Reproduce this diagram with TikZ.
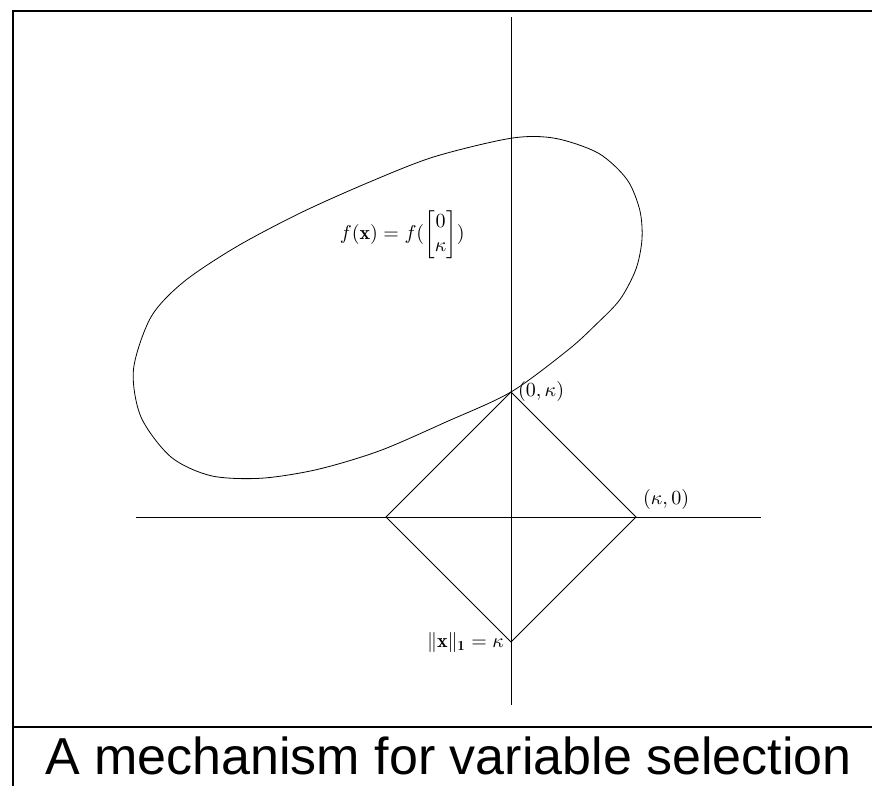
\documentclass[tikz,border=0pt]{standalone}
\usepackage{amsmath}
\usepackage{fontspec}
\setsansfont{Liberation Sans}
\usetikzlibrary{calc}
\tikzset{
  axisline/.style={thin},
  frameline/.style={line width=1pt},
  sepline/.style={line width=1.2pt},
  levelset/.style={thin, smooth cycle, tension=0.5},
  lbl/.style={font=\normalsize},
  captxt/.style={font=\sffamily\fontsize{26}{30}\selectfont, inner sep=0pt, anchor=base west},
}

\begin{document}
\begin{tikzpicture}[x=62.5pt, y=62.5pt]
    \useasboundingbox (-4.088,-2.152) rectangle (2.888,4.136);
    % frame and caption
    \coordinate (ftl) at (-3.986,4.048);
    \coordinate (ftr) at (2.888,4.048);
    \coordinate (fbl) at (-3.986,-2.152);
    \coordinate (sl) at (-3.986,-1.68);
    \coordinate (sr) at (2.888,-1.68);
    \draw[frameline] (fbl) -- (ftl) -- (ftr);
    \draw[sepline] (sl) -- (sr);
    \node[captxt] (cap) at (-3.728,-2.056) {A mechanism for variable selection};
    % axes
    \coordinate (xmin) at (-3,0);
    \coordinate (xmax) at (2,0);
    \coordinate (ymin) at (0,-1.5);
    \coordinate (ymax) at (0,4);
    \draw[axisline] (xmin) -- (xmax);
    \draw[axisline] (ymin) -- (ymax);
    % l1 ball
    \coordinate (top) at (0,1);
    \coordinate (rgt) at (1,0);
    \coordinate (bot) at (0,-1);
    \coordinate (lft) at (-1,0);
    \draw (top) -- (rgt) -- (bot) -- (lft) -- cycle;
    % level set of f
    \draw[levelset] plot coordinates {(0,1) (0.456,1.336) (0.68,1.54) (0.872,1.74)
      (1.0,1.984) (1.048,2.224) (1.03,2.456) (0.928,2.7) (0.7,2.91) (0.35,3.03)
      (0,3.03) (-0.62,2.88) (-1.15,2.672) (-1.69,2.43) (-2.2,2.16) (-2.62,1.88)
      (-2.88,1.6) (-3.02,1.18) (-2.96,0.8) (-2.72,0.48) (-2.4,0.33) (-2.0,0.31)
      (-1.55,0.38) (-1.05,0.53) (-0.52,0.76)};
    \node[lbl, right] (ptop) at (top) {$(0,\kappa)$};
    \node[lbl, above right] (prgt) at (rgt) {$(\kappa,0)$};
    \node[lbl, left] (pbot) at (bot) {$\|\mathbf{x}\|_{\mathbf{1}}=\kappa$};
    \node[lbl] (fval) at (-0.87,2.26) {$f(\mathbf{x})=f(\begin{bmatrix}0\\ \kappa\end{bmatrix})$};
  \end{tikzpicture}
\end{document}
